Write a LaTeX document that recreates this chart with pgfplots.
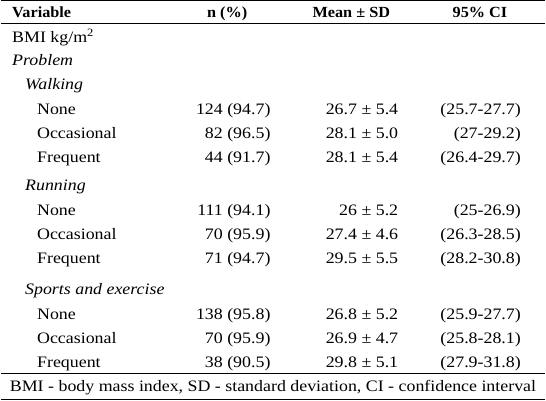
\documentclass[border=0pt]{standalone}
\usepackage{fontspec}
\setmainfont[FakeStretch=1.12]{Liberation Serif}
\newfontfamily\hdr[FakeStretch=1.05]{Liberation Serif}
\usepackage{pgfplots}
\pgfplotsset{compat=1.18}
\newcommand{\row}[5]{%
  \node[anchor=base west] at (axis cs:31,#1) {#2};
  \node[anchor=base east] at (axis cs:276,#1) {#3};
  \node[anchor=base east] at (axis cs:404,#1) {#4};
  \node[anchor=base east] at (axis cs:527,#1) {#5};}
\begin{document}
\fontsize{16}{19}\selectfont
\begin{tikzpicture}
\begin{axis}[width=546pt,height=401pt,scale only axis,
  xmin=0,xmax=546,ymin=0,ymax=401,y dir=reverse,hide axis,clip=false,
  every node/.style={inner sep=0pt,outer sep=0pt,font=\fontsize{16}{19}\selectfont}]
\addplot[black,line width=1.4pt] coordinates {(0,0.7) (546,0.7)};
\addplot[black,line width=1pt] coordinates {(0,23.5) (546,23.5)};
\addplot[black,line width=1pt] coordinates {(0,374.5) (546,374.5)};
\addplot[black,line width=1.4pt] coordinates {(0,400.3) (546,400.3)};
% header
\node[anchor=base west,font=\hdr\fontsize{15.5}{18}\selectfont\bfseries] at (axis cs:6,18) {Variable};
\node[anchor=base,font=\hdr\fontsize{15.5}{18}\selectfont\bfseries] at (axis cs:227,18) {n (\%)};
\node[anchor=base,font=\hdr\fontsize{15.5}{18}\selectfont\bfseries] at (axis cs:351.5,18) {Mean ± SD};
\node[anchor=base,font=\hdr\fontsize{15.5}{18}\selectfont\bfseries] at (axis cs:480.5,18) {95\% CI};
% body
\node[anchor=base west] at (axis cs:6,43) {BMI kg/m\textsuperscript{2}};
\node[anchor=base west,font=\fontsize{16}{19}\selectfont\itshape] at (axis cs:6,66) {Problem};
\node[anchor=base west,font=\fontsize{16}{19}\selectfont\itshape] at (axis cs:19,90) {Walking};
\row{115}{None}{124 (94.7)}{26.7 ± 5.4}{(25.7-27.7)}
\row{139}{Occasional}{82 (96.5)}{28.1 ± 5.0}{(27-29.2)}
\row{163}{Frequent}{44 (91.7)}{28.1 ± 5.4}{(26.4-29.7)}
\node[anchor=base west,font=\fontsize{16}{19}\selectfont\itshape] at (axis cs:19,191) {Running};
\row{216}{None}{111 (94.1)}{26 ± 5.2}{(25-26.9)}
\row{240}{Occasional}{70 (95.9)}{27.4 ± 4.6}{(26.3-28.5)}
\row{264}{Frequent}{71 (94.7)}{29.5 ± 5.5}{(28.2-30.8)}
\node[anchor=base west,font=\fontsize{16}{19}\selectfont\itshape] at (axis cs:19,295) {Sports and exercise};
\row{320}{None}{138 (95.8)}{26.8 ± 5.2}{(25.9-27.7)}
\row{344}{Occasional}{70 (95.9)}{26.9 ± 4.7}{(25.8-28.1)}
\row{368}{Frequent}{38 (90.5)}{29.8 ± 5.1}{(27.9-31.8)}
% footer
\node[anchor=base] at (axis cs:273,393) {BMI - body mass index, SD - standard deviation, CI - confidence interval};
\end{axis}
\end{tikzpicture}
\end{document}
